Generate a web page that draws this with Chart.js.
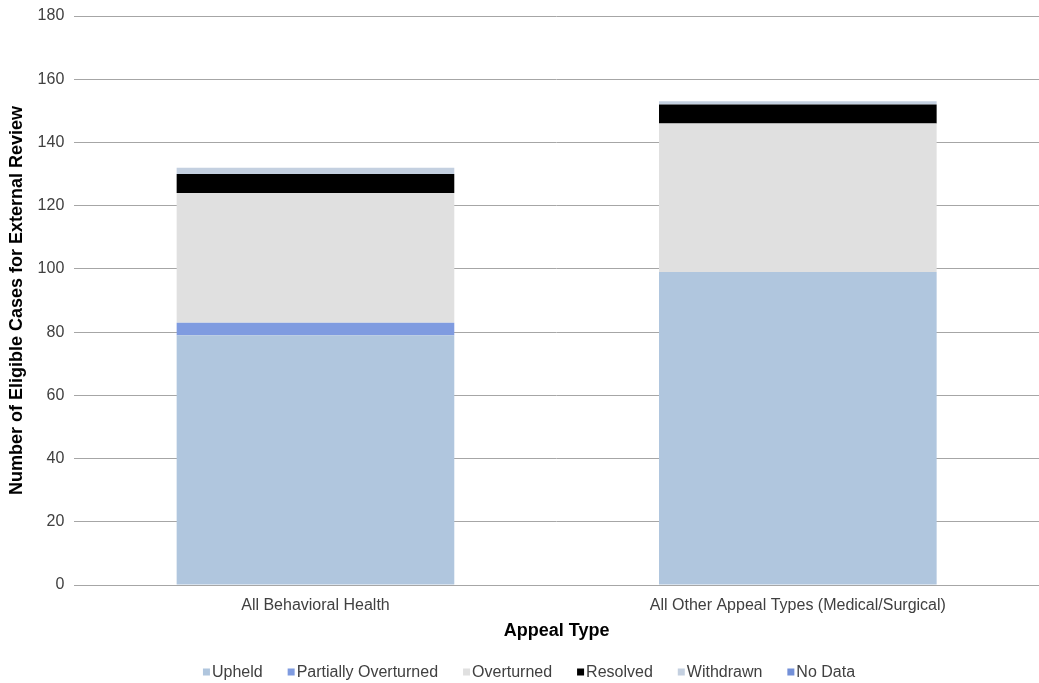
<!DOCTYPE html>
<html><head><meta charset="utf-8">
<script src="https://cdn.jsdelivr.net/npm/chart.js@4/dist/chart.umd.min.js"></script>
<style>html,body{margin:0;padding:0;background:#fff}#w{width:1039px;height:683px}</style>
</head><body><div id="w"><canvas id="c"></canvas></div>
<script>
const categories = ["All Behavioral Health", "All Other Appeal Types (Medical/Surgical)"];
const upheld = [79, 99];
const partiallyOverturned = [4, 0];
const overturned = [41, 47];
const resolved = [6, 6];
const withdrawn = [2, 1];
const noData = [0, 0];
const yTicks = [0, 20, 40, 60, 80, 100, 120, 140, 160, 180];

const F = "'Liberation Sans', Arial, sans-serif";
const series = [
  ["Upheld", upheld, "#b0c6de"],
  ["Partially Overturned", partiallyOverturned, "#7f9be0"],
  ["Overturned", overturned, "#e0e0e0"],
  ["Resolved", resolved, "#000000"],
  ["Withdrawn", withdrawn, "#c4d0e0"],
  ["No Data", noData, "#7390d8"]
];

const bottomLegend = {
  id: 'bottomLegend',
  afterDraw(chart) {
    const ctx = chart.ctx;
    ctx.save();
    ctx.font = "16px " + F;
    ctx.textBaseline = 'middle';
    const box = 7, gapText = 2, gapItem = 25, cy = 672;
    const items = chart.data.datasets.map(d => ({t: d.label, c: d.backgroundColor, w: ctx.measureText(d.label).width}));
    let total = items.reduce((a, it) => a + box + gapText + it.w, 0) + gapItem * (items.length - 1);
    let x = 529 - total / 2;
    items.forEach(it => {
      ctx.fillStyle = it.c;
      ctx.fillRect(x, cy - box / 2, box, box);
      ctx.fillStyle = '#404040';
      ctx.fillText(it.t, x + box + gapText, cy + 1);
      x += box + gapText + it.w + gapItem;
    });
    ctx.restore();
  }
};

new Chart(document.getElementById('c'), {
  type: 'bar',
  data: {
    labels: categories,
    datasets: series.map(s => ({label: s[0], data: s[1], backgroundColor: s[2], borderWidth: 0,
      categoryPercentage: 0.5756, barPercentage: 1.0}))
  },
  plugins: [bottomLegend],
  options: {
    responsive: true, maintainAspectRatio: false, animation: false,
    layout: {padding: {top: 0, right: 0, left: 0, bottom: 41}},
    plugins: {
      legend: {display: false},
      tooltip: {enabled: false}
    },
    scales: {
      x: {stacked: true, grid: {display: false, drawTicks: false}, border: {color: '#a6a6a6'},
        afterFit: s => { s.height = 57; },
        ticks: {font: {family: F, size: 16}, color: '#404040', padding: 11},
        title: {display: true, text: 'Appeal Type', font: {family: F, size: 18, weight: 'bold'}, color: '#000', padding: {top: 4, bottom: 0}}},
      y: {stacked: true, min: 0, max: 180,
        afterBuildTicks: ax => { ax.ticks = yTicks.map(v => ({value: v})); },
        afterFit: s => { s.paddingTop = 16; },
        grid: {color: '#a6a6a6', drawTicks: false}, border: {display: false},
        ticks: {font: {family: F, size: 16}, color: '#404040', padding: 10},
        title: {display: true, text: 'Number of Eligible Cases for External Review', font: {family: F, size: 18, weight: 'bold'}, color: '#000', padding: {top: 6, bottom: 0}}}
    }
  }
});
</script></body></html>
